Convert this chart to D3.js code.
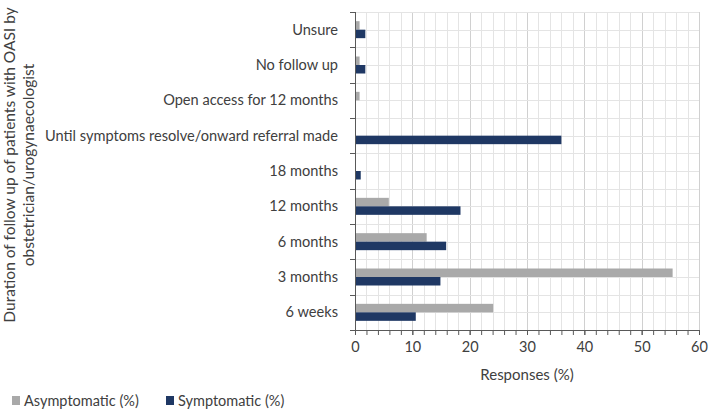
<!DOCTYPE html>
<html lang="en">
  <head>
    <meta charset="utf-8">
    <title>OASI follow up</title>
    <script src="https://d3js.org/d3.v7.min.js"></script>
    <style>
      html, body { margin: 0; padding: 0; background: #fff; overflow: hidden; }
      svg { display: block; }
      text { font-family: Lato, "Open Sans", sans-serif; fill: #404040; }
    </style>
  </head>
  <body>
    <script type="text/javascript">

      var w = 709;
      var h = 412;
      var margin = {top: 12, right: 10, bottom: 82, left: 355};
      var innerWidth = 699 - margin.left;
      var innerHeight = 330 - margin.top;

      // top to bottom, as drawn
      var categories = ["Unsure", "No follow up", "Open access for 12 months",
                        "Until symptoms resolve/onward referral made", "18 months",
                        "12 months", "6 months", "3 months", "6 weeks"];
      var asymptomatic = [0.8, 0.8, 0.8, 0, 0, 5.9, 12.5, 55.4, 24.1];
      var symptomatic = [1.8, 1.8, 0, 36.0, 1.0, 18.4, 15.9, 14.9, 10.6];
      var xTicks = [0, 10, 20, 30, 40, 50, 60];
      var seriesNames = ["Asymptomatic (%)", "Symptomatic (%)"];
      var colors = ["#a9a9a9", "#1f3864"];

      var svg = d3.select("body")
                  .append("svg")
                  .attr("width", w)
                  .attr("height", h);

      var g = svg.append("g")
                 .attr("transform", "translate(" + margin.left + "," + margin.top + ")");

      var x_scale = d3.scaleLinear()
                      .domain([0, 60])
                      .range([0, innerWidth]);

      var y_scale = d3.scaleBand()
                      .domain(categories)
                      .range([margin.top, margin.top + innerHeight]);

      var sub = d3.scaleBand()
                  .domain([0, 1])
                  .range([0, 17]);

      // grid: vertical every 2, horizontal every half band
      g.selectAll(".vgrid")
       .data(d3.range(2, 61, 2))
       .enter()
       .append("line")
       .attr("x1", d => Math.round(x_scale(d)) + 0.5)
       .attr("x2", d => Math.round(x_scale(d)) + 0.5)
       .attr("y1", 0)
       .attr("y2", innerHeight)
       .attr("stroke", d => d % 10 == 0 ? "#d0d0d0" : "#e4e4e4")
       .attr("stroke-width", 1);

      g.selectAll(".hgrid")
       .data(d3.range(0, categories.length * 2))
       .enter()
       .append("line")
       .attr("x1", 0)
       .attr("x2", innerWidth)
       .attr("y1", d => Math.round(d * y_scale.bandwidth() / 2) + 0.5)
       .attr("y2", d => Math.round(d * y_scale.bandwidth() / 2) + 0.5)
       .attr("stroke", "#e4e4e4");

      var rows = categories.map((c, i) => ({cat: c, vals: [asymptomatic[i], symptomatic[i]]}));

      var row = g.selectAll(".row")
                 .data(rows)
                 .enter()
                 .append("g")
                 .attr("transform", d => "translate(0," + (y_scale(d.cat) - margin.top + y_scale.bandwidth() / 2 - 8.5) + ")");

      row.selectAll("rect")
         .data(d => d.vals)
         .enter()
         .append("rect")
         .attr("x", x_scale(0))
         .attr("y", (d, i) => sub(i))
         .attr("width", d => x_scale(d) - x_scale(0))
         .attr("height", sub.bandwidth())
         .attr("fill", (d, i) => colors[i]);

      // x axis with minor ticks
      var xAxisG = g.append("g")
                    .attr("transform", "translate(0," + innerHeight + ")");
      xAxisG.call(d3.axisBottom(x_scale).tickValues(d3.range(0, 61, 2)).tickSize(5).tickFormat(""));
      xAxisG.selectAll("text").remove();
      xAxisG.append("g")
            .call(d3.axisBottom(x_scale).tickValues(xTicks).tickSize(5).tickPadding(7));
      xAxisG.selectAll("path, line").attr("stroke", "#595959");
      xAxisG.selectAll("text")
            .style("font-size", "14.5px")
            .style("font-family", "Lato, 'Open Sans', sans-serif")
            .attr("fill", "#404040");

      // y axis with ticks at band edges
      var yAxisG = g.append("g");
      yAxisG.append("line")
            .attr("x1", 0.5).attr("x2", 0.5)
            .attr("y1", 0).attr("y2", innerHeight)
            .attr("stroke", "#595959");
      yAxisG.selectAll(".ytick")
            .data(d3.range(0, categories.length + 1))
            .enter()
            .append("line")
            .attr("x1", -5).attr("x2", 0)
            .attr("y1", d => Math.round(d * y_scale.bandwidth()) + 0.5)
            .attr("y2", d => Math.round(d * y_scale.bandwidth()) + 0.5)
            .attr("stroke", "#595959");

      svg.selectAll(".ylab")
         .data(categories)
         .enter()
         .append("text")
         .attr("x", margin.left - 17)
         .attr("y", d => y_scale(d) + y_scale.bandwidth() / 2)
         .attr("dy", "0.35em")
         .attr("text-anchor", "end")
         .style("font-size", "14.6px")
         .text(d => d);

      // axis titles
      svg.append("text")
         .attr("x", margin.left + innerWidth / 2)
         .attr("y", 380)
         .attr("text-anchor", "middle")
         .style("font-size", "15px")
         .text("Responses (%)");

      var yt = svg.append("text")
                  .attr("transform", "translate(15,165) rotate(-90)")
                  .attr("text-anchor", "middle")
                  .style("font-size", "15.5px");
      yt.append("tspan").attr("x", 0).attr("y", 0).text("Duration of follow up of patients with OASI by");
      yt.append("tspan").attr("x", 0).attr("y", 19).text("obstetrician/urogynaecologist");

      // legend
      var legend = svg.selectAll(".legend")
                      .data(seriesNames)
                      .enter()
                      .append("g")
                      .attr("transform", (d, i) => "translate(" + [12, 166][i] + ",396)");
      legend.append("rect")
            .attr("width", 8).attr("height", 9)
            .attr("fill", (d, i) => colors[i]);
      legend.append("text")
            .attr("x", 12)
            .attr("y", 5)
            .attr("dy", "0.35em")
            .style("font-size", "14.5px")
            .text(d => d);

    </script>
  </body>
</html>
